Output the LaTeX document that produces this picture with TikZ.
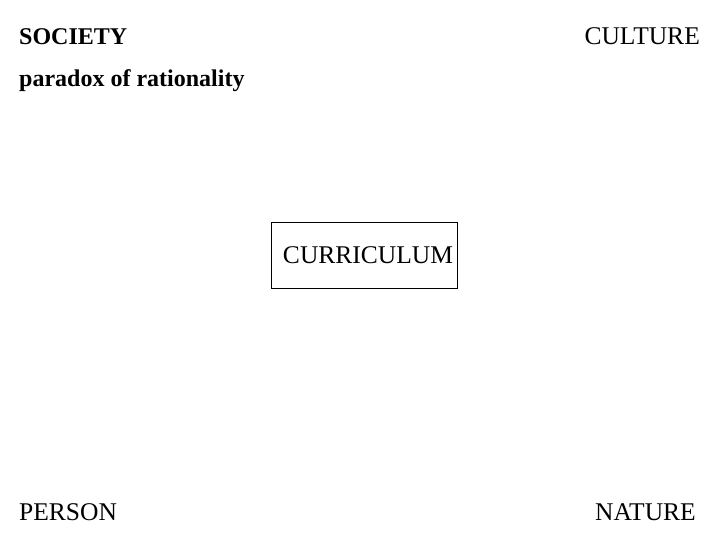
\documentclass[tikz,border=0pt]{standalone}
\usepackage{fontspec}
\setmainfont{Liberation Serif}
\tikzstyle{every node}=[inner sep=0pt, font=\fontsize{25.5}{28}\selectfont]
\tikzstyle{corner}=[anchor=base west]
\tikzstyle{heading}=[anchor=base west, font=\fontsize{24}{28}\selectfont\bfseries]
\tikzstyle{boxed}=[draw, thin, minimum width=186pt, minimum height=66pt]

\begin{document}
\begin{tikzpicture}[x=1pt, y=-1pt]
    \useasboundingbox (0,0) rectangle (720,540);
    \node[heading] (society) at (19,45) {SOCIETY};
    \node[anchor=base east] (culture) at (700,45) {CULTURE};
    \node[heading] (paradox) at (19,87) {paradox of rationality};
    \node[boxed] (curric) at (364,255) {\hspace{8pt}CURRICULUM};
    \node[corner] (person) at (19,520) {PERSON};
    \node[anchor=base east] (nature) at (696,520) {NATURE};
  \end{tikzpicture}
\end{document}
